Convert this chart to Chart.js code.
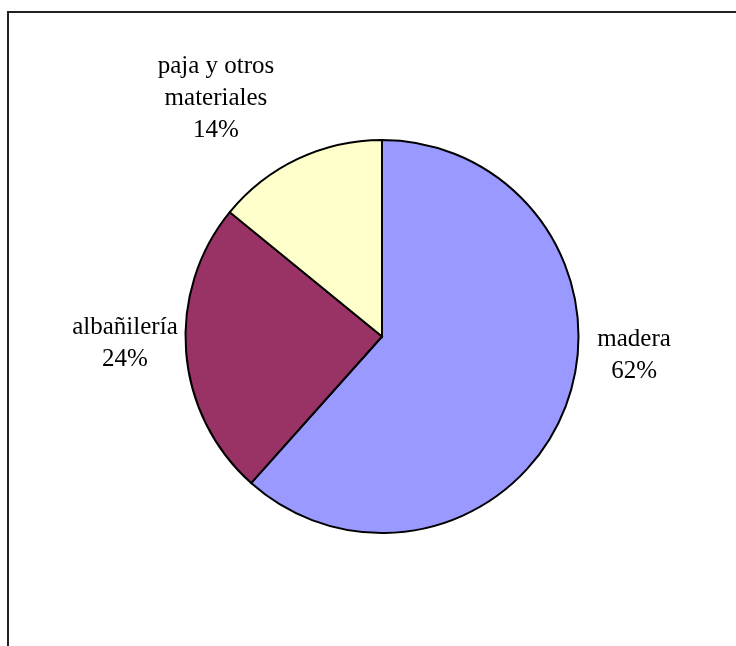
<!DOCTYPE html>
<html>
<head>
<meta charset="utf-8">
<script src="https://cdn.jsdelivr.net/npm/chart.js@4"></script>
<style>
    html, body { margin: 0; padding: 0; background: #fff; }
    #wrap { width: 736px; height: 646px; position: relative; }
</style>
</head>
<body>
<div id="wrap"><canvas id="pieChart" width="736" height="646"></canvas></div>
<script>
// datos del gráfico
const categorias = ['madera', 'albañilería', 'paja y otros materiales'];
const porcentajes = [61.6, 24.3, 14.1];
const colores = ['#9999FF', '#993366', '#FFFFCC'];

// líneas de texto de cada etiqueta
const etiquetas = [
    ['madera', '62%'],
    ['albañilería', '24%'],
    ['paja y otros', 'materiales', '14%']
];

// posición de las etiquetas, relativa al radio del pastel
const labelOffsets = [
    { x: 1.283, y: 0.094 },
    { x: -1.308, y: 0.033 },
    { x: -0.845, y: -1.214 }
];

// marco (solo arriba e izquierda, como en el original)
const framePlugin = {
    id: 'frame',
    beforeDraw(chart) {
        const ctx = chart.ctx;
        ctx.save();
        ctx.strokeStyle = '#222';
        ctx.lineWidth = 2;
        ctx.beginPath();
        ctx.moveTo(8, 646);
        ctx.lineTo(8, 12);
        ctx.lineTo(736, 12);
        ctx.stroke();
        ctx.restore();
    }
};

// etiquetas fuera del pastel
const labelPlugin = {
    id: 'outsideLabels',
    afterDatasetsDraw(chart) {
        const ctx = chart.ctx;
        const arcs = chart.getDatasetMeta(0).data;
        ctx.save();
        ctx.font = '25px "Liberation Serif", "Times New Roman", serif';
        ctx.fillStyle = '#000';
        ctx.textAlign = 'center';
        ctx.textBaseline = 'middle';
        const lineH = 32;
        arcs.forEach((arc, i) => {
            const r = arc.outerRadius;
            const cx = arc.x + labelOffsets[i].x * r;
            const cy = arc.y + labelOffsets[i].y * r;
            const lines = etiquetas[i];
            const top = cy - (lines.length - 1) * lineH / 2;
            lines.forEach((t, k) => ctx.fillText(t, cx, top + k * lineH));
        });
        ctx.restore();
    }
};

new Chart(document.getElementById('pieChart'), {
    type: 'pie',
    data: {
        labels: categorias,
        datasets: [{
            data: porcentajes,
            backgroundColor: colores,
            borderColor: '#000',
            borderWidth: 2,
            borderJoinStyle: 'miter'
        }]
    },
    options: {
        responsive: false,
        animation: false,
        layout: {
            padding: { left: 184.5, right: 156.5, top: 139, bottom: 112 }
        },
        plugins: {
            legend: { display: false },
            tooltip: { enabled: false }
        }
    },
    plugins: [framePlugin, labelPlugin]
});
</script>
</body>
</html>
